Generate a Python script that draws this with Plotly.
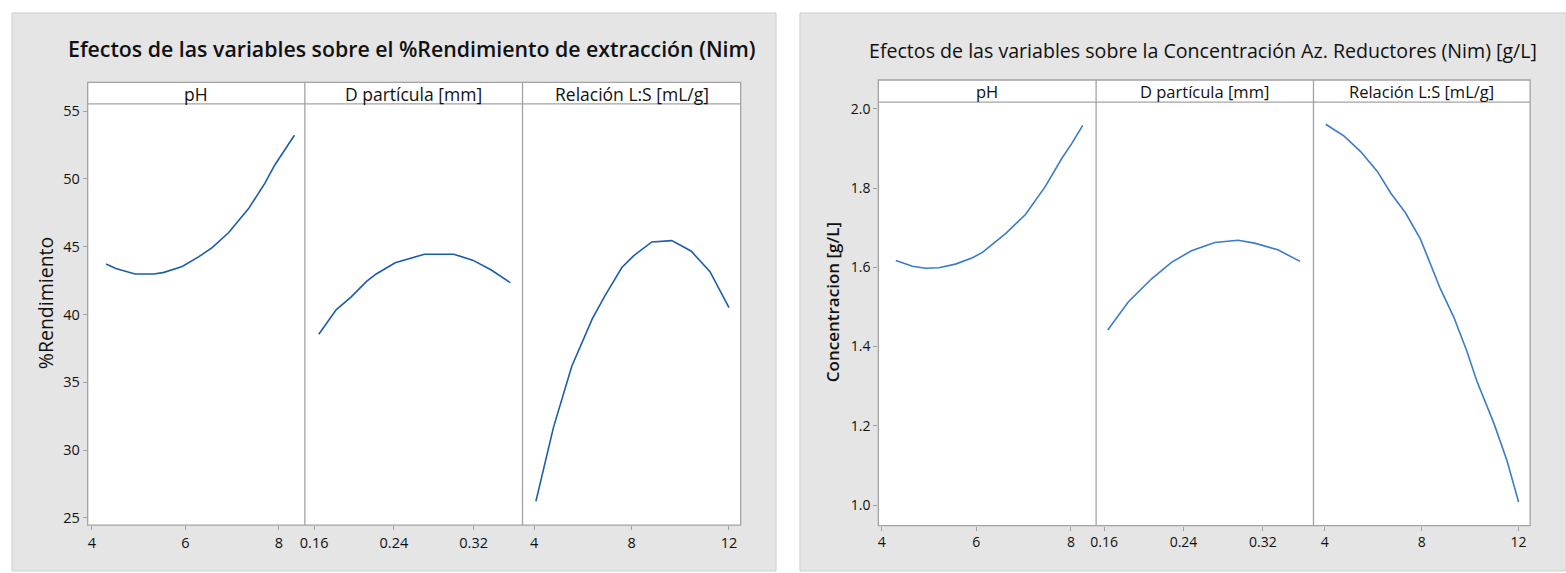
import plotly.graph_objects as go

W, H = 1566, 573

# ---------------- data ----------------
panel_names = ["pH", "D partícula [mm]", "Relación L:S [mL/g]"]

# Left chart: %Rendimiento
ph_left_x = [4.30, 4.51, 4.92, 5.33, 5.54, 5.93, 6.28, 6.57, 6.92, 7.13, 7.35, 7.70, 7.91, 8.33]
ph_left_y = [43.72, 43.40, 42.99, 42.99, 43.11, 43.55, 44.25, 44.94, 46.03, 46.89, 47.81, 49.69, 51.03, 53.22]
dp_left_x = [0.1647, 0.1823, 0.197, 0.2123, 0.2223, 0.2413, 0.2707, 0.30, 0.319, 0.3373, 0.3567]
dp_left_y = [38.55, 40.36, 41.28, 42.43, 42.99, 43.82, 44.45, 44.45, 44.01, 43.30, 42.35]
ls_left_x = [4.07, 4.79, 5.54, 6.39, 6.91, 7.6, 8.08, 8.83, 9.65, 10.44, 11.22, 12.0]
ls_left_y = [26.22, 31.66, 36.17, 39.70, 41.40, 43.47, 44.33, 45.35, 45.45, 44.69, 43.16, 40.50]

# Right chart: Concentración [g/L]
ph_right_x = [4.30, 4.65, 4.93, 5.21, 5.56, 5.92, 6.13, 6.62, 7.04, 7.46, 7.81, 8.02, 8.25]
ph_right_y = [1.617, 1.6025, 1.5975, 1.599, 1.608, 1.624, 1.6375, 1.685, 1.733, 1.804, 1.875, 1.9125, 1.958]
dp_right_x = [0.1637, 0.1744, 0.1844, 0.2079, 0.2279, 0.248, 0.2715, 0.2949, 0.3116, 0.335, 0.3574]
dp_right_y = [1.4417, 1.479, 1.5125, 1.571, 1.6125, 1.6417, 1.6625, 1.668, 1.661, 1.644, 1.615]
ls_right_x = [4.04, 4.80, 5.48, 6.17, 6.72, 7.33, 7.95, 8.77, 9.32, 9.87, 10.28, 10.97, 11.52, 12.0]
ls_right_y = [1.961, 1.931, 1.892, 1.842, 1.7875, 1.7375, 1.671, 1.546, 1.475, 1.3875, 1.3125, 1.208, 1.1125, 1.008]

ph_ticks = [4, 6, 8]
dp_ticks = [0.16, 0.24, 0.32]
ls_ticks = [4, 8, 12]
left_y_ticks = [25, 30, 35, 40, 45, 50, 55]
right_y_ticks = [1.0, 1.2, 1.4, 1.6, 1.8, 2.0]

left_title = "Efectos de las variables sobre el %Rendimiento de extracción (Nim)"
right_title = "Efectos de las variables sobre la Concentración Az. Reductores (Nim) [g/L]"
left_ylabel = "%Rendimiento"
right_ylabel = "Concentracion [g/L]"

# ---------------- layout helpers ----------------
FONT = "Open Sans"
FRAME = "#a3a3a3"
BG = "#e5e5e5"


def px(x):
    return x / W


def py(y):
    return 1 - y / H


fig = go.Figure()

charts = [
    dict(xs=[ph_left_x, dp_left_x, ls_left_x], ys=[ph_left_y, dp_left_y, ls_left_y],
         edges=[82, 300, 518.5, 737.5], top=101.7, bottom=526.7, htop=80,
         xr=[[3.908, 8.553], [0.1507, 0.369], [3.521, 12.48]], yr=[24.47, 55.54],
         yt=left_y_ticks, yfmt="d", color="#1c5daa", title=left_title, tx=408, ty=46,
         tsize=21.3, tweight=600, ylab=left_ylabel, ylx=40, yly=303, ylsize=19.5, ylweight=500,
         hsize=17.5, tick=14.5, bg=[6, 10, 773, 573]),
    dict(xs=[ph_right_x, dp_right_x, ls_right_x], ys=[ph_right_y, dp_right_y, ls_right_y],
         edges=[875.7, 1094.3, 1312.5, 1530], top=100, bottom=527.3, htop=77.7,
         xr=[[3.93, 8.533], [0.152, 0.3709], [3.534, 12.477]], yr=[0.948, 2.0167],
         yt=right_y_ticks, yfmt=".1f", color="#3a7cc6", title=right_title, tx=1202, ty=48,
         tsize=19.6, tweight=400, ylab=right_ylabel, ylx=830, yly=302, ylsize=17, ylweight=600,
         hsize=16.5, tick=14, bg=[797, 10, 1566, 573]),
]

ticksets = [ph_ticks, dp_ticks, ls_ticks]
shapes = []
annotations = []
ax_i = 0
for ci, c in enumerate(charts):
    yname = "yaxis" if ci == 0 else "yaxis2"
    yref = "y" if ci == 0 else "y2"
    # background panel
    x0, y0, x1, y1 = c["bg"]
    shapes.append(dict(type="rect", xref="paper", yref="paper", x0=px(x0), x1=px(x1),
                       y0=py(y1), y1=py(y0), fillcolor=BG, line=dict(color="#cfcfcf", width=1),
                       layer="below"))
    # white plot area
    e = c["edges"]
    shapes.append(dict(type="rect", xref="paper", yref="paper", x0=px(e[0]), x1=px(e[3]),
                       y0=py(c["bottom"]), y1=py(c["htop"]), fillcolor="white",
                       line=dict(color=FRAME, width=1.3), layer="below"))
    # header bottom line
    shapes.append(dict(type="line", xref="paper", yref="paper", x0=px(e[0]), x1=px(e[3]),
                       y0=py(c["top"]), y1=py(c["top"]), line=dict(color=FRAME, width=1.3)))
    for k in range(3):
        ax_i += 1
        xname = "xaxis" if ax_i == 1 else f"xaxis{ax_i}"
        xref = "x" if ax_i == 1 else f"x{ax_i}"
        fig.add_trace(go.Scatter(x=c["xs"][k], y=c["ys"][k], mode="lines",
                                 line=dict(color=c["color"], width=1.6),
                                 xaxis=xref, yaxis=yref, showlegend=False, hoverinfo="skip"))
        fig.layout[xname] = dict(domain=[px(e[k]), px(e[k + 1])], range=c["xr"][k],
                                 anchor=yref, tickmode="array", tickvals=ticksets[k],
                                 ticktext=[str(t) for t in ticksets[k]],
                                 ticks="outside", ticklen=4, tickcolor=FRAME, tickwidth=1,
                                 showgrid=False, zeroline=False, showline=False,
                                 tickfont=dict(family=FONT, size=c["tick"], color="#111"))
        if k > 0:
            shapes.append(dict(type="line", xref="paper", yref="paper", x0=px(e[k]), x1=px(e[k]),
                               y0=py(c["bottom"]), y1=py(c["htop"]),
                               line=dict(color=FRAME, width=1.3)))
        annotations.append(dict(text=panel_names[k], xref="paper", yref="paper",
                                x=px((e[k] + e[k + 1]) / 2), y=py((c["htop"] + c["top"]) / 2 + 0.5),
                                xanchor="center", yanchor="middle", showarrow=False,
                                font=dict(family=FONT, size=c["hsize"], color="#111")))
        if k == 0:
            fig.layout[yname] = dict(domain=[py(c["bottom"]), py(c["top"])], range=c["yr"],
                                     anchor=xref, tickmode="array", tickvals=c["yt"],
                                     tickformat=c["yfmt"], ticks="outside", ticklen=4,
                                     tickcolor=FRAME, showgrid=False, zeroline=False,
                                     showline=False,
                                     tickfont=dict(family=FONT, size=c["tick"], color="#111"))
    annotations.append(dict(text=c["title"], xref="paper", yref="paper", x=px(c["tx"]),
                            y=py(c["ty"]), xanchor="center", yanchor="middle", showarrow=False,
                            font=dict(family=FONT, size=c["tsize"], color="#111",
                                      weight=c["tweight"])))
    annotations.append(dict(text=c["ylab"], xref="paper", yref="paper", x=px(c["ylx"]),
                            y=py(c["yly"]), xanchor="center", yanchor="middle", showarrow=False,
                            textangle=-90,
                            font=dict(family=FONT, size=c["ylsize"], color="#111",
                                      weight=c["ylweight"])))

fig.update_layout(width=W, height=H, autosize=False, margin=dict(l=0, r=0, t=0, b=0),
                  paper_bgcolor="white", plot_bgcolor="rgba(0,0,0,0)",
                  shapes=shapes, annotations=annotations, showlegend=False,
                  font=dict(family=FONT))

fig.write_html("out.html")
